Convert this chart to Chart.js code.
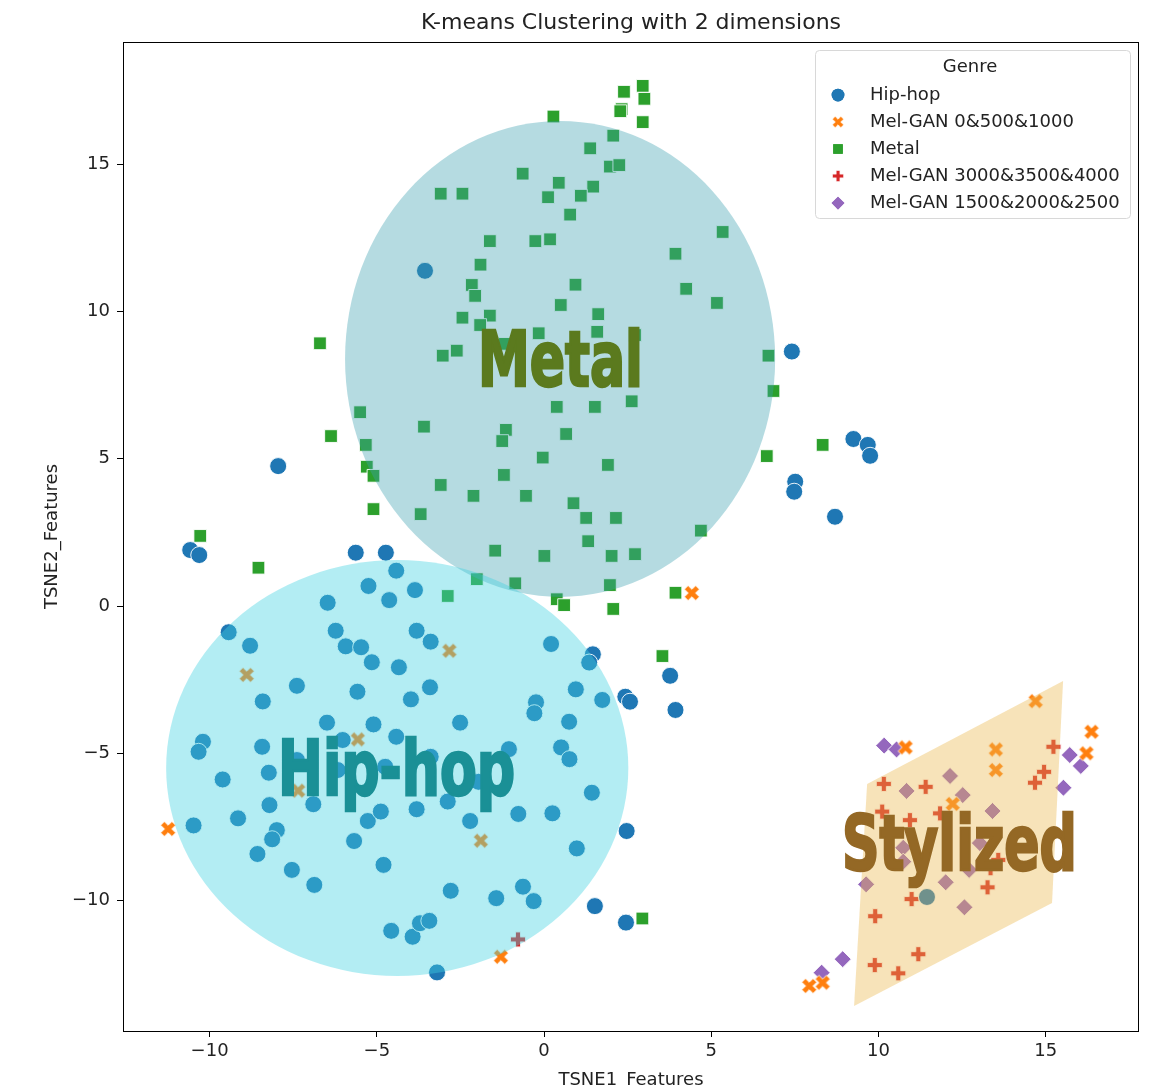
<!DOCTYPE html>
<html>
<head>
<meta charset="utf-8">
<script src="https://cdn.jsdelivr.net/npm/chart.js@4.4.0/dist/chart.umd.min.js"></script>
<style>
  html,body{margin:0;padding:0;background:#fff;}
  canvas{display:block;}
</style>
</head>
<body>
<canvas id="chart" width="1149" height="1088"></canvas>
<script>
// ---- data ----
const X_TICKS = [-10, -5, 0, 5, 10, 15];
const Y_TICKS = [-10, -5, 0, 5, 10, 15];
const X_RANGE = [-12.59, 17.79];
const Y_RANGE = [-14.43, 19.15];

const hipHop = [
  [-3.56,11.38],[-7.95,4.75],[-10.58,1.90],[-10.31,1.73],[-5.63,1.81],[-4.73,1.81],
  [7.41,8.64],[9.25,5.67],[9.68,5.47],[9.75,5.10],[7.51,4.22],[7.48,3.88],[8.70,3.03],
  [1.46,-1.64],[1.35,-1.92],[2.43,-3.08],[2.57,-3.25],[3.77,-2.37],[3.93,-3.53],
  [2.47,-7.64],[1.52,-10.19],[2.45,-10.75],[-3.20,-12.44],[11.45,-9.88],
  [-4.42,1.20],[-5.25,0.68],[-4.63,0.20],[-3.86,0.54],[-6.47,0.11],[-3.81,-0.84],
  [-9.43,-0.89],[-8.79,-1.35],[-6.23,-0.84],[-5.93,-1.37],[-5.47,-1.40],[-5.15,-1.91],
  [-4.34,-2.08],[-7.39,-2.71],[-5.58,-2.91],[-3.98,-3.17],[-8.41,-3.24],[-6.49,-3.96],
  [-5.10,-4.02],[-4.42,-4.44],[-6.02,-4.55],[-10.20,-4.61],[-10.33,-4.95],[-8.43,-4.78],
  [-7.39,-5.23],[-6.17,-5.57],[-4.75,-5.46],[-9.61,-5.89],[-8.23,-5.66],[-8.21,-6.76],
  [-6.90,-6.73],[-9.15,-7.21],[-10.48,-7.45],[-5.27,-7.30],[-4.88,-6.98],[-3.81,-6.90],
  [-7.99,-7.61],[-3.39,-1.21],[0.21,-1.29],[-3.41,-2.76],[-2.51,-3.96],[-0.24,-3.27],
  [-0.29,-3.64],[0.95,-2.83],[1.74,-3.19],[0.75,-3.93],[-1.05,-4.86],[0.51,-4.80],
  [0.76,-5.20],[-3.39,-5.12],[-1.96,-5.97],[1.43,-6.34],[-2.88,-6.64],[-2.21,-7.30],
  [-0.77,-7.06],[0.25,-7.04],[-8.13,-7.92],[-8.57,-8.42],[-5.68,-7.98],[-7.54,-8.96],
  [-6.87,-9.47],[-4.80,-8.79],[-4.57,-11.03],[-3.93,-11.23],[-3.71,-10.77],[-3.43,-10.69],
  [0.98,-8.23],[-2.79,-9.67],[-1.43,-9.92],[-0.63,-9.53],[-0.31,-10.02]
];
const melGan0 = [
  [4.42,0.44],[-11.24,-7.57],[-8.89,-2.34],[-2.83,-1.52],[-5.57,-4.53],[-7.35,-6.27],
  [-1.89,-7.97],[-1.29,-11.91],[14.70,-3.23],[10.81,-4.80],[16.37,-4.27],[16.22,-5.00],
  [13.51,-4.87],[13.51,-5.57],[12.22,-6.72],[7.93,-12.90],[8.33,-12.79]
];
const metal = [
  [0.28,16.62],[2.07,15.97],[1.38,15.54],[1.97,14.92],[2.25,14.97],[-0.64,14.68],
  [0.44,14.37],[1.47,14.24],[1.10,13.93],[0.12,13.88],[-3.09,14.00],[-2.44,14.00],
  [0.78,13.29],[-1.62,12.39],[-0.26,12.39],[0.18,12.45],[-1.90,11.59],[0.94,10.91],
  [-2.16,10.90],[-2.06,10.53],[0.50,10.22],[-2.44,9.79],[-1.62,9.86],[-1.91,9.54],
  [1.62,9.91],[1.59,9.31],[-0.16,9.26],[2.95,17.66],[2.39,17.46],[3.00,17.22],
  [2.32,16.87],[2.28,16.80],[2.95,16.43],[5.34,12.70],[3.93,11.96],[4.25,10.77],
  [5.17,10.29],[2.72,9.20],[-6.70,8.92],[-3.03,8.50],[-2.61,8.67],[-1.17,8.90],
  [-5.50,6.58],[-6.37,5.77],[-3.59,6.09],[-1.14,5.98],[-1.25,5.60],[0.38,6.76],
  [1.52,6.76],[0.66,5.84],[-0.04,5.04],[1.91,4.79],[-5.33,5.47],[-5.30,4.73],
  [-5.10,4.42],[-5.10,3.29],[-3.09,4.11],[-2.11,3.74],[-0.54,3.74],[-1.20,4.45],
  [-3.69,3.12],[0.88,3.49],[1.26,2.99],[2.15,2.99],[1.32,2.20],[-1.46,1.88],
  [0.01,1.70],[2.02,1.70],[-2.01,0.91],[-0.86,0.77],[1.97,0.71],[-2.88,0.34],
  [0.38,0.23],[0.60,0.03],[2.07,-0.10],[6.71,8.50],[6.86,7.30],[2.62,6.95],
  [6.66,5.09],[8.33,5.47],[4.69,2.56],[2.72,1.76],[3.93,0.45],[-10.28,2.38],
  [-8.54,1.30],[3.54,-1.70],[2.94,-10.61]
];
const melGan3000 = [
  [15.23,-4.78],[14.95,-5.63],[14.68,-6.00],[10.16,-6.04],[11.41,-6.14],[10.11,-6.98],
  [10.94,-7.27],[11.84,-7.04],[10.99,-9.95],[13.26,-9.55],[9.90,-10.53],[9.89,-12.19],
  [10.59,-12.47],[11.19,-11.82],[13.58,-8.62],[13.35,-8.90],[-0.78,-11.32]
];
const melGan1500 = [
  [10.17,-4.74],[10.54,-4.87],[15.72,-5.06],[16.05,-5.43],[15.53,-6.17],[12.14,-5.77],
  [10.84,-6.28],[12.52,-6.42],[13.41,-6.96],[10.74,-8.21],[13.03,-8.05],[10.74,-8.68],
  [9.63,-9.45],[12.01,-9.38],[12.71,-8.96],[12.57,-10.23],[8.93,-11.99],[8.30,-12.45]
];

// cluster highlight shapes, in data units
const metalEllipse = {cx:0.48, cy:8.39, rx:6.43, ry:8.08};
const hipHopCircle = {cx:-4.39, cy:-5.50, rx:6.91, ry:7.06};
const stylizedPoly = [[9.66,-6.04],[15.52,-2.55],[15.19,-10.08],[9.27,-13.58]];
const clusterLabels = [
  {text:'Metal', x:0.49, y:7.47, width:165, color:'#5b7a1e'},
  {text:'Hip-hop', x:-4.41, y:-6.42, width:237, color:'#1a9096'},
  {text:'Stylized', x:12.42, y:-8.96, width:235, color:'#946825'}
];

// ---- marker images for thick X / plus ----
function makeCross(color, rot, arm, half){
  const s = 24;
  const c = document.createElement('canvas');
  c.width = s; c.height = s;
  const g = c.getContext('2d');
  g.translate(s/2, s/2);
  g.rotate(rot);
  const a = arm, t = half;
  g.beginPath();
  g.moveTo(-t,-a); g.lineTo(t,-a); g.lineTo(t,-t); g.lineTo(a,-t); g.lineTo(a,t); g.lineTo(t,t);
  g.lineTo(t,a); g.lineTo(-t,a); g.lineTo(-t,t); g.lineTo(-a,t); g.lineTo(-a,-t); g.lineTo(-t,-t);
  g.closePath();
  g.fillStyle = color; g.fill();
  g.strokeStyle = '#fff'; g.lineWidth = 0.8; g.stroke();
  return c;
}
const xMarker = makeCross('#ff7f0e', Math.PI/4, 8, 2.6);
const plusMarker = makeCross('#d62728', 0, 7.5, 2.5);

const toXY = arr => arr.map(p => ({x:p[0], y:p[1]}));
const fmt = v => v < 0 ? '\u2212' + Math.abs(v) : String(v);

const series = [
  {label:'Hip-hop', data:hipHop, style:'circle', color:'#1f77b4', radius:8.5},
  {label:'Mel-GAN 0&500&1000', data:melGan0, style:xMarker, color:'#ff7f0e', radius:8},
  {label:'Metal', data:metal, style:'rect', color:'#2ca02c', radius:9},
  {label:'Mel-GAN 3000&3500&4000', data:melGan3000, style:plusMarker, color:'#d62728', radius:8},
  {label:'Mel-GAN 1500&2000&2500', data:melGan1500, style:'rectRot', color:'#9467bd', radius:8.5}
];

// overlays, labels, frame, titles, legend
const decorPlugin = {
  id:'decor',
  afterDatasetsDraw(chart){
    const ctx = chart.ctx, xs = chart.scales.x, ys = chart.scales.y, a = chart.chartArea;
    const px = v => xs.getPixelForValue(v), py = v => ys.getPixelForValue(v);
    ctx.save();
    ctx.beginPath(); ctx.rect(a.left, a.top, a.right-a.left, a.bottom-a.top); ctx.clip();

    function ellipse(e, fill){
      ctx.beginPath();
      ctx.ellipse(px(e.cx), py(e.cy), Math.abs(px(e.cx+e.rx)-px(e.cx)), Math.abs(py(e.cy+e.ry)-py(e.cy)), 0, 0, Math.PI*2);
      ctx.fillStyle = fill; ctx.fill();
    }
    ellipse(metalEllipse, 'rgba(60,160,175,0.38)');
    ellipse(hipHopCircle, 'rgba(64,210,225,0.40)');

    ctx.beginPath();
    stylizedPoly.forEach((p,i)=>{ if(i===0) ctx.moveTo(px(p[0]),py(p[1])); else ctx.lineTo(px(p[0]),py(p[1])); });
    ctx.closePath();
    ctx.fillStyle = 'rgba(235,185,80,0.40)'; ctx.fill();

    clusterLabels.forEach(l=>{
      ctx.font = 'bold 76px "Liberation Sans Narrow","DejaVu Sans Condensed","Roboto",sans-serif';
      const w = ctx.measureText(l.text).width;
      ctx.save();
      ctx.translate(px(l.x), py(l.y));
      ctx.scale(l.width / w, 1);
      ctx.textAlign = 'center'; ctx.textBaseline = 'alphabetic';
      ctx.fillStyle = l.color; ctx.strokeStyle = l.color; ctx.lineWidth = 2.5;
      ctx.fillText(l.text, 0, 0);
      ctx.strokeText(l.text, 0, 0);
      ctx.restore();
    });
    ctx.restore();

    // frame
    ctx.save();
    ctx.strokeStyle = '#000'; ctx.lineWidth = 1;
    ctx.strokeRect(Math.round(a.left)+0.5, Math.round(a.top)+0.5, Math.round(a.right-a.left)-1, Math.round(a.bottom-a.top));
    ctx.restore();
  },
  afterDraw(chart){
    const ctx = chart.ctx, a = chart.chartArea;
    ctx.save();
    ctx.fillStyle = '#222';
    ctx.textAlign = 'center'; ctx.textBaseline = 'middle';
    ctx.font = '22px "DejaVu Sans"';
    ctx.fillText('K-means Clustering with 2 dimensions', (a.left+a.right)/2, 23);
    ctx.font = '18px "DejaVu Sans"';
    ctx.fillText('TSNE1_Features', (a.left+a.right)/2, 1080);
    ctx.save();
    ctx.translate(52, (a.top+a.bottom)/2);
    ctx.rotate(-Math.PI/2);
    ctx.fillText('TSNE2_Features', 0, 0);
    ctx.restore();

    // legend
    const lx = 815, ly = 50, lw = 315, lh = 168;
    ctx.beginPath();
    ctx.roundRect(lx+0.5, ly+0.5, lw, lh, 4);
    ctx.fillStyle = 'rgba(255,255,255,0.85)'; ctx.fill();
    ctx.strokeStyle = '#d8d8d8'; ctx.lineWidth = 1; ctx.stroke();
    ctx.fillStyle = '#222';
    ctx.font = '18px "DejaVu Sans"';
    ctx.fillText('Genre', 970, 67);
    ctx.textAlign = 'left';
    series.forEach((s,i)=>{
      const yy = 95 + i*27, mx = 838;
      if (typeof s.style !== 'string'){
        ctx.drawImage(s.style, mx-9, yy-9, 18, 18);
      } else {
        ctx.fillStyle = s.color;
        Chart.helpers.drawPoint(ctx, {pointStyle:s.style, radius:s.radius*0.75, rotation:0, borderWidth:0}, mx, yy);
        ctx.fill();
      }
      ctx.fillStyle = '#222';
      ctx.fillText(s.label, 870, yy);
    });
    ctx.restore();
  }
};

new Chart(document.getElementById('chart'), {
  type:'scatter',
  data:{
    datasets: series.map(s=>({
      label:s.label,
      data:toXY(s.data),
      pointStyle:s.style,
      pointRadius:s.radius,
      backgroundColor:s.color,
      borderColor:'#ffffff',
      borderWidth:0.9
    }))
  },
  options:{
    responsive:false,
    devicePixelRatio:1,
    animation:false,
    events:[],
    layout:{padding:{top:42, right:10, left:0, bottom:0}},
    plugins:{legend:{display:false}, tooltip:{enabled:false}, title:{display:false}},
    scales:{
      x:{
        type:'linear', min:X_RANGE[0], max:X_RANGE[1],
        afterBuildTicks: s => { s.ticks = X_TICKS.map(v=>({value:v})); },
        afterFit: s => { s.height = 57; },
        grid:{drawOnChartArea:false, drawTicks:true, tickLength:6, tickColor:'#000', tickWidth:1},
        border:{display:false},
        ticks:{font:{family:'DejaVu Sans', size:18}, color:'#222', padding:4, maxRotation:0, callback:fmt}
      },
      y:{
        type:'linear', min:Y_RANGE[0], max:Y_RANGE[1],
        afterBuildTicks: s => { s.ticks = Y_TICKS.map(v=>({value:v})); },
        afterFit: s => { s.width = 123; },
        grid:{drawOnChartArea:false, drawTicks:true, tickLength:6, tickColor:'#000', tickWidth:1},
        border:{display:false},
        ticks:{font:{family:'DejaVu Sans', size:18}, color:'#222', padding:7, callback:fmt}
      }
    }
  },
  plugins:[decorPlugin]
});
</script>
</body>
</html>
